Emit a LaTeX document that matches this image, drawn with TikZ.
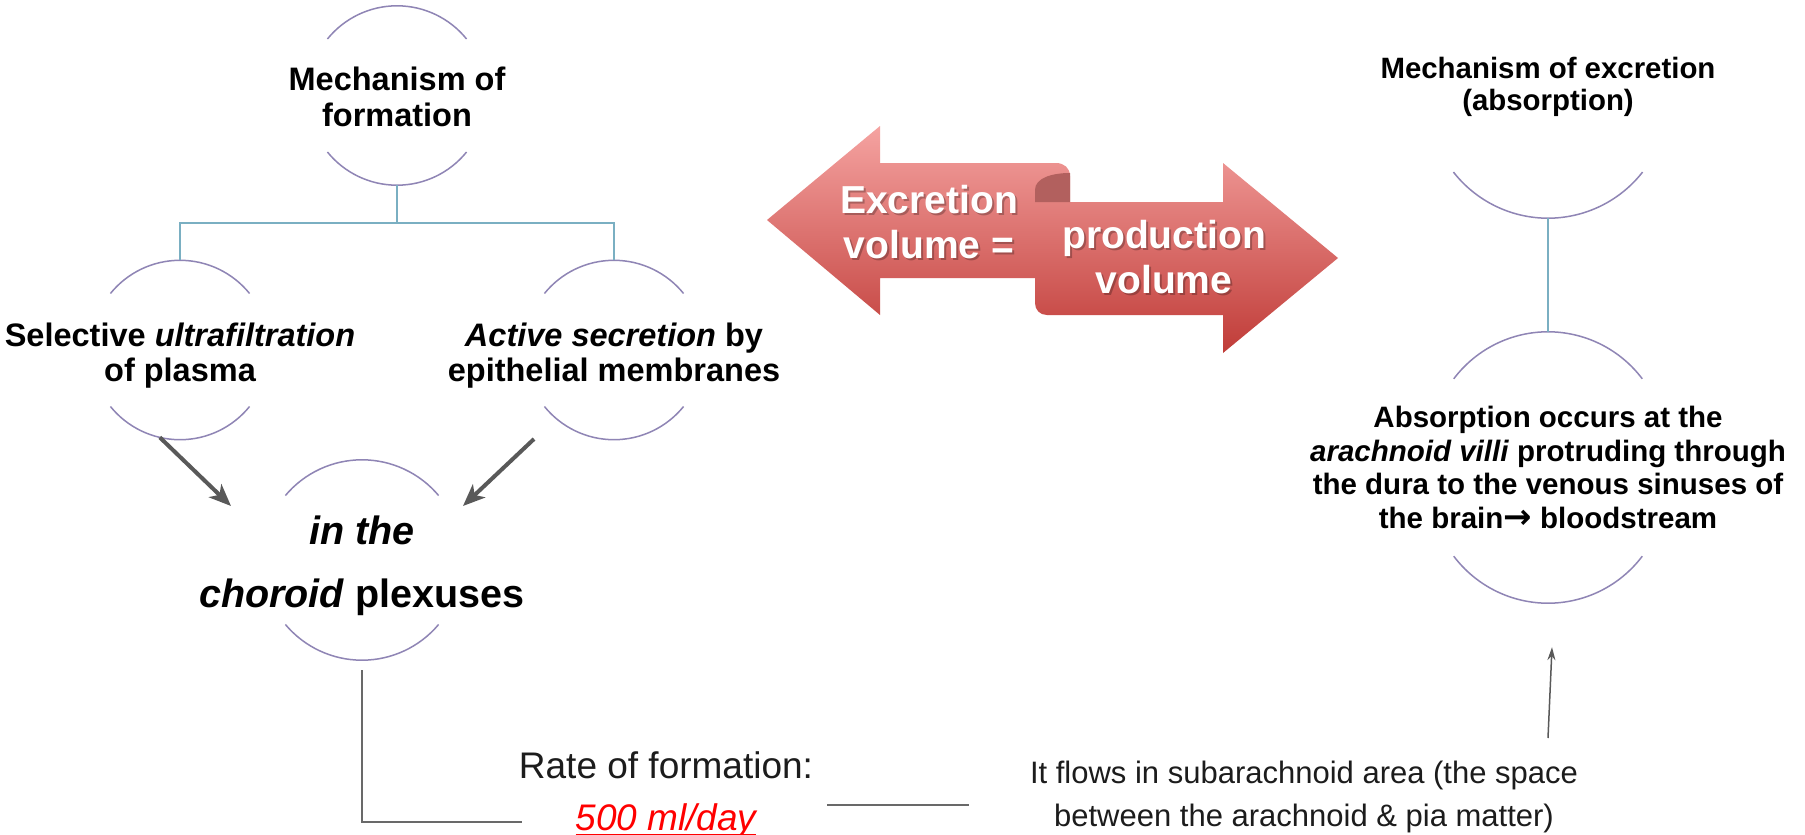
\documentclass[tikz,border=0pt]{standalone}
\usepackage{fontspec}
\setmainfont{Liberation Sans}
\newfontfamily\arrowfont{DejaVu Sans}
\usetikzlibrary{arrows.meta,calc}
\definecolor{arcc}{RGB}{143,133,181}
\definecolor{treec}{RGB}{122,175,194}
\definecolor{gry}{RGB}{89,89,89}
\definecolor{lgry}{RGB}{105,105,105}
\definecolor{txtc}{RGB}{28,28,28}
\definecolor{redt}{RGB}{255,0,0}
\definecolor{arrtop}{RGB}{245,163,161}
\definecolor{arrbot}{RGB}{192,60,56}
\definecolor{foldc}{RGB}{178,96,94}
\newcommand\toparcs[3]{\draw[arcst] (#1.north) arc[start angle=90,end angle=90+#3,radius=#2] (#1.north) arc[start angle=90,end angle=90-#3,radius=#2];}
\newcommand\botarcs[3]{\draw[arcst] (#1.south) arc[start angle=270,end angle=270-#3,radius=#2] (#1.south) arc[start angle=270,end angle=270+#3,radius=#2];}
\newcommand\redul[1]{\setbox0\hbox{#1}\rlap{\rule[-5pt]{\wd0}{2pt}}\box0}
\begin{document}
\begin{tikzpicture}[x=1pt,y=1pt,
  arcst/.style={draw=arcc,line width=1.5pt},
  tree/.style={draw=treec,line width=2pt},
  holder/.style={circle,minimum size=#1,inner sep=0pt,draw=none},
  lbl/.style={align=center,inner sep=0pt,text=black},
  bigarrow/.style={draw=gry,line width=4pt,-{Stealth[length=22pt,width=18pt,inset=6pt]}},
  thinarrow/.style={draw=gry,line width=1.5pt,-{Stealth[length=13pt,width=8pt]}},
  lline/.style={draw=lgry,line width=2pt},
  arrtxt/.style={align=center,inner sep=0pt,font=\fontsize{39}{45}\selectfont\bfseries}]
\fill[white] (0,0) rectangle (1805,-835);
\useasboundingbox (0,0) rectangle (1805,-835);

% ---- formation tree ----
\node[holder=179] (mform) at (397,-95.5) {};
\node[lbl,font=\fontsize{32.5}{36}\selectfont\bfseries] (mformT) at (397,-97) {Mechanism of\\formation};
\toparcs{mform}{89.5}{51}
\botarcs{mform}{89.5}{51}

\node[holder=179] (sel) at (180,-350) {};
\node[lbl,font=\fontsize{32.5}{35}\selectfont\bfseries] (selT) at (180,-356) {Selective \textit{ultrafiltration}\\of plasma};
\toparcs{sel}{89.5}{51}
\botarcs{sel}{89.5}{51}

\node[holder=179] (act) at (614,-350) {};
\node[lbl,font=\fontsize{32.5}{35}\selectfont\bfseries] (actT) at (614,-356) {\textit{Active secretion} by\\epithelial membranes};
\toparcs{act}{89.5}{51}
\botarcs{act}{89.5}{51}

\coordinate (jn) at (397,-223);
\draw[tree] (mform.south) -- (jn);
\draw[tree] (sel.north) |- (jn) -| (act.north);

\node[holder=200] (chor) at (362,-560) {};
\node[lbl,font=\fontsize{39.5}{63}\selectfont\bfseries] (chorT) at (362,-565.5) {\textit{in the}\\\textit{choroid} plexuses};
\toparcs{chor}{100}{50}
\botarcs{chor}{100}{50}

\draw[bigarrow] (sel.257) -- ($(chor.center)+(-131,54)$);
\draw[bigarrow] ($(act.center)+(-80,-89)$) -- ($(chor.center)+(101,54)$);

% ---- rate / flow ----
\node[lbl,text=txtc,font=\fontsize{37}{52}\selectfont] (rate) at (666,-795) {Rate of formation:\\{\color{redt}\itshape\redul{500 ml/day}}};
\coordinate (rateL) at (522,-822);
\draw[lline] ([yshift=-10pt]chor.south) |- (rateL);

\node[lbl,text=txtc,font=\fontsize{31}{43}\selectfont] (flow) at (1304,-797) {It flows in subarachnoid area (the space\\between the arachnoid \& pia matter)};
\coordinate (mlA) at (827,-805);
\coordinate (mlB) at (969,-805);
\draw[lline] (mlA) -- (mlB);

% ---- excretion ----
\node[holder=240] (exc) at (1548,-98) {};
\node[lbl,font=\fontsize{29.4}{32}\selectfont\bfseries] (excT) at (1548,-87) {Mechanism of excretion\\(absorption)};
\botarcs{exc}{120}{52}

\node[rectangle,minimum width=10pt,minimum height=271pt,inner sep=0pt,draw=none] (absn) at (1548,-467.5) {};
\node[lbl,font=\fontsize{29.5}{33.7}\selectfont\bfseries] (absT) at (1548,-467.5) {Absorption occurs at the\\\textit{arachnoid villi} protruding through\\the dura to the venous sinuses of\\the brain{\arrowfont\bfseries\fontsize{34}{34}\selectfont →} bloodstream};
\toparcs{absn}{118}{53}
\botarcs{absn}{118}{53}
\draw[tree] (exc.south) -- (absn.north);

\coordinate (flT) at (1548,-738);
\draw[thinarrow] (flT) -- ($(absn.south)+(4,-44)$);

% ---- double ribbon arrow ----
\shade[top color=arrtop,bottom color=arrbot]
  (767,-220) -- (880,-126) -- (880,-163) -- (1056,-163)
  .. controls (1064,-163) and (1070,-168) .. (1070,-176) -- (1070,-278) -- (880,-278) -- (880,-315) -- cycle
  (1338,-258) -- (1223,-353) -- (1223,-315) -- (1047,-315)
  .. controls (1040,-315) and (1035,-310) .. (1035,-303) -- (1035,-202) -- (1223,-202) -- (1223,-163) -- cycle;
\fill[foldc] (1070,-173) .. controls (1052,-173) and (1035,-178) .. (1035,-190) -- (1035,-202) -- (1070,-202) -- cycle;
\node[arrtxt,text=black,opacity=0.25] (exS) at (931,-224.5) {Excretion\\volume =};
\node[arrtxt,text=white] (exT) at (929,-222.5) {Excretion\\volume =};
\node[arrtxt,text=black,opacity=0.25] (prS) at (1166,-259.5) {production\\volume};
\node[arrtxt,text=white] (prT) at (1164,-257.5) {production\\volume};
\end{tikzpicture}
\end{document}
